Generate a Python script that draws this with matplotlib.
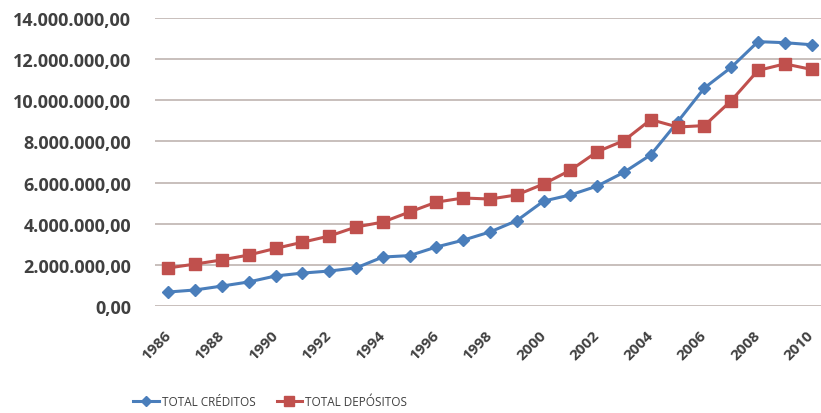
import numpy as np
import matplotlib.pyplot as plt
from matplotlib.ticker import FuncFormatter
from matplotlib.lines import Line2D

years = list(range(1986, 2011))
total_creditos = [0.68, 0.78, 0.97, 1.17, 1.46, 1.60, 1.70, 1.85, 2.38, 2.45,
                  2.87, 3.20, 3.60, 4.15, 5.10, 5.40, 5.83, 6.50, 7.35, 8.95,
                  10.60, 11.60, 12.85, 12.80, 12.70]
total_depositos = [1.85, 2.04, 2.24, 2.48, 2.80, 3.10, 3.40, 3.84, 4.08, 4.57,
                   5.05, 5.25, 5.20, 5.40, 5.93, 6.60, 7.50, 8.04, 9.06, 8.70,
                   8.77, 9.98, 11.45, 11.77, 11.50]
year_ticks = list(range(1986, 2011, 2))
y_ticks = list(range(0, 15, 2))

blue = '#4a7ebb'
red = '#c0504d'
txt = '#404040'

plt.rcParams['font.family'] = ['Open Sans', 'DejaVu Sans']

def es_fmt(v, pos):
    # millions -> 14.000.000,00
    s = '{:,.2f}'.format(v * 1e6)
    return s.replace(',', 'X').replace('.', ',').replace('X', '.')

fig = plt.figure(figsize=(8.21, 4.14), dpi=100)
ax = fig.add_axes([155/821, 1 - 307/414, 670/821, 288/414])

ax.plot(years, total_creditos, color=blue, lw=2.2, marker='D', ms=6,
        markeredgecolor=blue, markerfacecolor=blue, zorder=3)
ax.plot(years, total_depositos, color=red, lw=2.2, marker='s', ms=8.5,
        markeredgecolor=red, markerfacecolor=red, zorder=3)

ax.set_xlim(1985.5, 2010.5)
ax.set_ylim(0, 14)
ax.set_yticks(y_ticks)
ax.yaxis.set_major_formatter(FuncFormatter(es_fmt))
ax.set_xticks(year_ticks)
ax.set_xticklabels([str(y) for y in year_ticks], rotation=45, ha='right',
                   va='center', rotation_mode='anchor')

ax.grid(axis='y', color='#c4bab6', lw=1.3)
ax.set_axisbelow(True)
for sp in ax.spines.values():
    sp.set_visible(False)
ax.tick_params(axis='both', length=0, colors=txt)
ax.tick_params(axis='y', pad=17, labelsize=13)
ax.tick_params(axis='x', pad=19, labelsize=11)
for lab in ax.get_yticklabels() + ax.get_xticklabels():
    lab.set_fontweight('bold')

handles = [Line2D([], [], color=blue, lw=2.2, marker='D', ms=5),
           Line2D([], [], color=red, lw=2.2, marker='s', ms=7)]
leg = fig.legend(handles, ['TOTAL CRÉDITOS', 'TOTAL DEPÓSITOS'],
                 loc='center', bbox_to_anchor=(270/821, 1 - 403/414), ncol=2,
                 frameon=False, fontsize=8.5, handlelength=2.2,
                 handletextpad=0.2, columnspacing=1.8)
for t in leg.get_texts():
    t.set_color(txt)

fig.savefig('out.png', dpi=100)
